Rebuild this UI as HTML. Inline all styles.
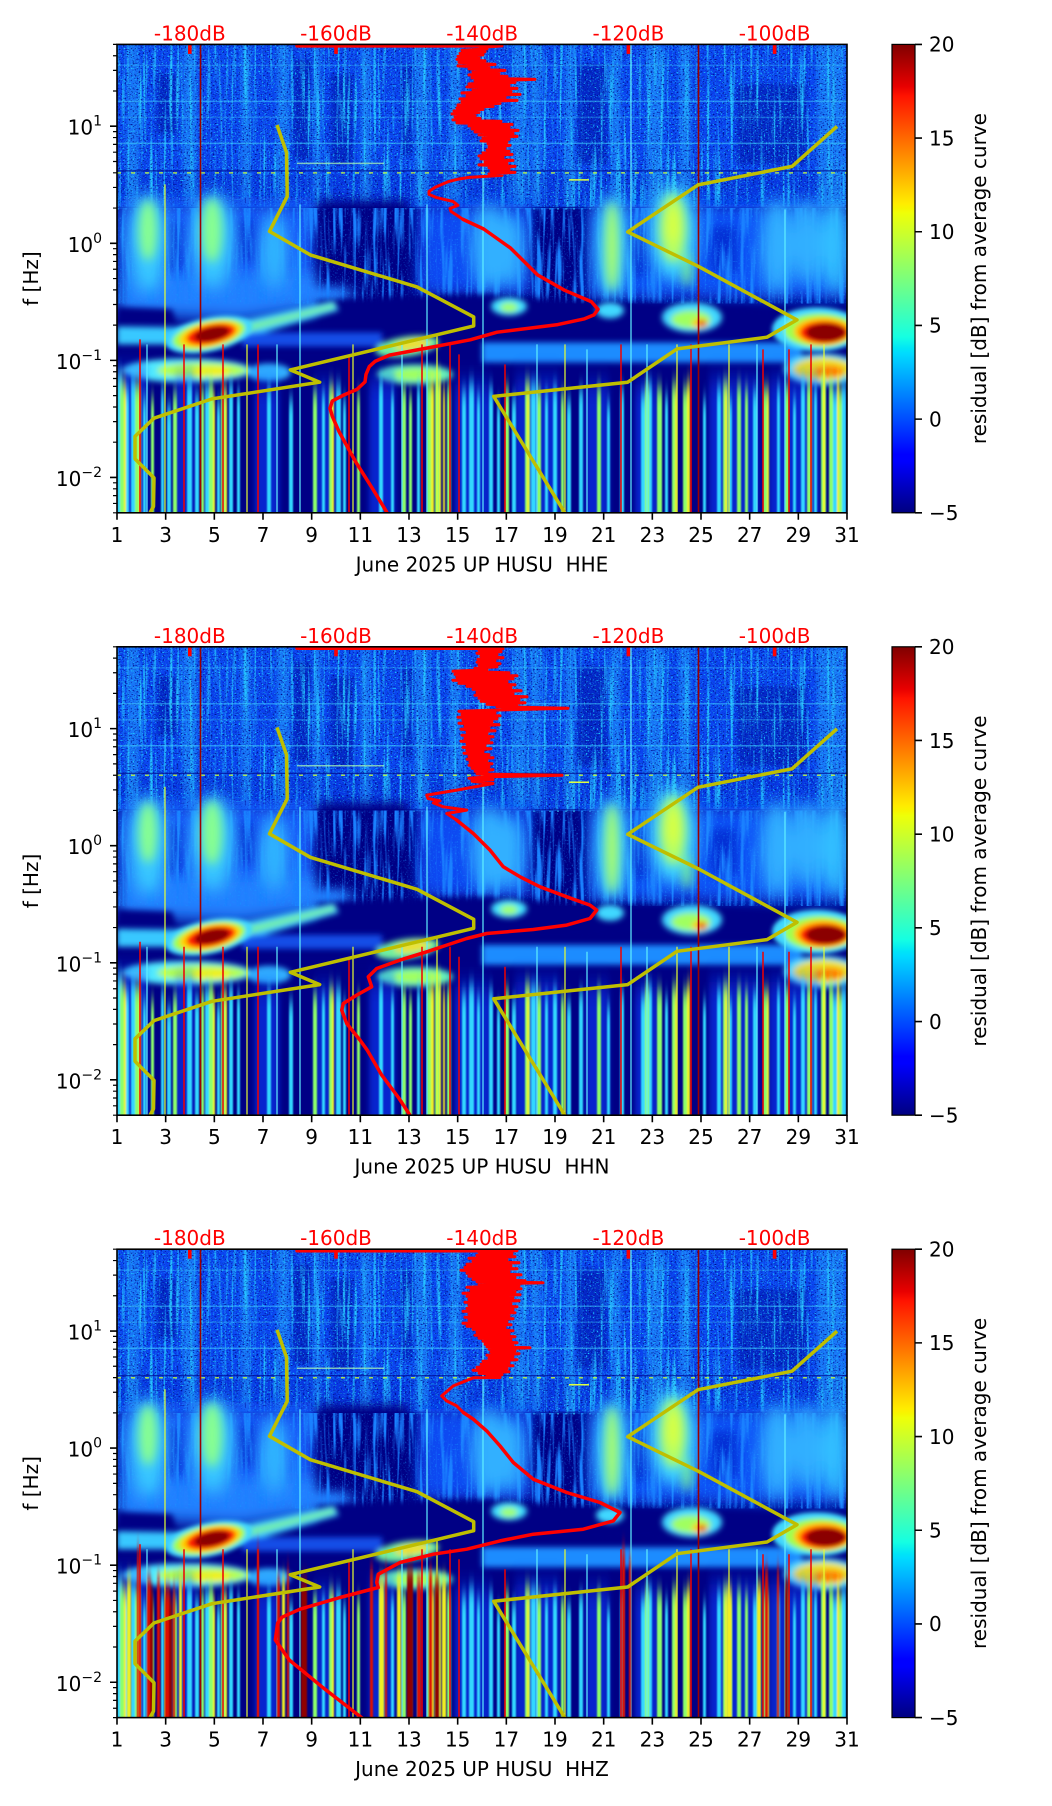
<!DOCTYPE html>
<html><head><meta charset="utf-8">
<style>
html,body{margin:0;padding:0;background:#fff;}
svg{display:block;}
text{font-family:"DejaVu Sans","Liberation Sans",sans-serif;font-size:20px;}
</style></head><body>
<svg xmlns="http://www.w3.org/2000/svg" width="1052" height="1806" viewBox="0 0 1052 1806">
<defs>
<filter id="b1" filterUnits="userSpaceOnUse" x="-60" y="-60" width="850" height="600"><feGaussianBlur stdDeviation="0.8"/></filter>
<filter id="b2" filterUnits="userSpaceOnUse" x="-60" y="-60" width="850" height="600"><feGaussianBlur stdDeviation="2"/></filter>
<filter id="b3" filterUnits="userSpaceOnUse" x="-60" y="-60" width="850" height="600"><feGaussianBlur stdDeviation="3"/></filter>
<filter id="b5" filterUnits="userSpaceOnUse" x="-60" y="-60" width="850" height="600"><feGaussianBlur stdDeviation="5"/></filter>
<filter id="b8" filterUnits="userSpaceOnUse" x="-60" y="-60" width="850" height="600"><feGaussianBlur stdDeviation="8"/></filter>
<filter id="bv" filterUnits="userSpaceOnUse" x="-60" y="-60" width="850" height="600"><feGaussianBlur stdDeviation="0.9 9"/></filter>
<filter id="bv2" filterUnits="userSpaceOnUse" x="-60" y="-60" width="850" height="600"><feGaussianBlur stdDeviation="3 12"/></filter>
<filter id="nzC" x="0" y="0" width="1" height="1" color-interpolation-filters="sRGB">
<feTurbulence type="fractalNoise" baseFrequency="0.55 0.75" numOctaves="2" seed="4"/>
<feColorMatrix type="matrix" values="0 0 0 0 0.12  0 0 0 0 0.82  0 0 0 0 1  5 0 0 0 -2.95"/>
</filter>
<filter id="nzD" x="0" y="0" width="1" height="1" color-interpolation-filters="sRGB">
<feTurbulence type="fractalNoise" baseFrequency="0.5 0.8" numOctaves="2" seed="9"/>
<feColorMatrix type="matrix" values="0 0 0 0 0  0 0 0 0 0.05  0 0 0 0 0.55  -5 0 0 0 2.15"/>
</filter>
<filter id="nzV" x="0" y="0" width="1" height="1" color-interpolation-filters="sRGB">
<feTurbulence type="fractalNoise" baseFrequency="0.3 0.01" numOctaves="2" seed="7"/>
<feColorMatrix type="matrix" values="0 0 0 0 0.15  0 0 0 0 0.75  0 0 0 0 1  4 0 0 0 -2.1"/>
</filter>
<filter id="nzV2" x="0" y="0" width="1" height="1" color-interpolation-filters="sRGB">
<feTurbulence type="fractalNoise" baseFrequency="0.25 0.015" numOctaves="2" seed="11"/>
<feColorMatrix type="matrix" values="0 0 0 0 0.1  0 0 0 0 0.5  0 0 0 0 1  4 0 0 0 -1.9"/>
</filter>
<filter id="nzM" x="0" y="0" width="1" height="1" color-interpolation-filters="sRGB">
<feTurbulence type="fractalNoise" baseFrequency="0.6 0.6" numOctaves="1" seed="21"/>
<feColorMatrix type="matrix" values="0 0 0 0 0.1  0 0 0 0 0.6  0 0 0 0 1  4 0 0 0 -2.3"/>
</filter>
<clipPath id="cp"><rect x="0" y="0" width="730" height="468.4"/></clipPath>
<linearGradient id="jet" x1="0" y1="1" x2="0" y2="0">
<stop offset="0" stop-color="#000080"/>
<stop offset="0.11" stop-color="#0000ff"/>
<stop offset="0.125" stop-color="#0000ff"/>
<stop offset="0.34" stop-color="#00dbff"/>
<stop offset="0.35" stop-color="#00e5f7"/>
<stop offset="0.375" stop-color="#15ffe2"/>
<stop offset="0.64" stop-color="#efff08"/>
<stop offset="0.65" stop-color="#f7f500"/>
<stop offset="0.66" stop-color="#ffec00"/>
<stop offset="0.89" stop-color="#ff1300"/>
<stop offset="0.91" stop-color="#e80000"/>
<stop offset="1" stop-color="#800000"/>
</linearGradient>

<g id="bg">
<rect x="0" y="0" width="730" height="470" fill="#000085"/>
<rect x="0" y="0" width="730" height="131" fill="#0b44f0"/>
<rect x="0" y="131" width="730" height="33" fill="#0838e4"/>
<g filter="url(#b2)" fill="#28a8ff" opacity="0.5">
<rect x="10" y="0" width="12" height="164"/>
<rect x="66" y="0" width="14" height="164"/>
<rect x="124" y="0" width="10" height="164"/>
<rect x="160" y="0" width="12" height="164"/>
<rect x="196" y="0" width="8" height="164"/>
<rect x="244" y="0" width="10" height="164"/>
<rect x="298" y="0" width="14" height="164"/>
<rect x="332" y="0" width="12" height="164"/>
<rect x="396" y="0" width="14" height="164"/>
<rect x="414" y="0" width="10" height="164"/>
<rect x="448" y="0" width="10" height="164"/>
<rect x="494" y="0" width="10" height="164"/>
<rect x="530" y="0" width="16" height="164"/>
<rect x="562" y="0" width="12" height="164"/>
<rect x="700" y="0" width="28" height="164"/>
</g>
<g filter="url(#b2)" fill="#0418b0" opacity="0.6">
<rect x="176" y="15" width="18" height="100"/>
<rect x="214" y="30" width="22" height="90"/>
<rect x="285" y="20" width="10" height="90"/>
<rect x="620" y="40" width="70" height="80"/>
<rect x="40" y="30" width="20" height="60"/>
<rect x="460" y="20" width="30" height="100"/>
</g>
<rect x="0" y="0" width="730" height="164" filter="url(#nzV)"/>
<rect x="0" y="0" width="730" height="164" filter="url(#nzC)"/>
<rect x="0" y="0" width="730" height="164" filter="url(#nzD)"/>
<g stroke-width="1.5" fill="none">
<line x1="0" x2="730" y1="21" y2="21" stroke="#40d0ff" opacity="0.3"/>
<line x1="0" x2="730" y1="57" y2="57" stroke="#40d0ff" opacity="0.5"/>
<line x1="0" x2="730" y1="73" y2="73" stroke="#40d0ff" opacity="0.3"/>
<line x1="0" x2="730" y1="99" y2="99" stroke="#40d0ff" opacity="0.55"/>
<line x1="180" x2="267" y1="119" y2="119" stroke="#b0ffb0" opacity="0.7"/>
<line x1="452" x2="472" y1="135.5" y2="135.5" stroke="#e0ff40"/>
<line x1="0" x2="730" y1="126.5" y2="126.5" stroke="#000a90" stroke-width="1.2" opacity="0.8"/>
<line x1="0" x2="730" y1="128.5" y2="128.5" stroke="#d0ff30" stroke-dasharray="4 10" opacity="0.8"/>
<line x1="0" x2="730" y1="163" y2="163" stroke="#000a90" stroke-width="1.2" opacity="0.8"/>
<line x1="0" x2="730" y1="164.5" y2="164.5" stroke="#40e0ff" stroke-dasharray="2 6" opacity="0.6"/>
</g>
<!-- mid region haze -->
<g filter="url(#b8)">
<rect x="0" y="158" width="200" height="105" fill="#1258f8"/>
<rect x="300" y="160" width="115" height="90" fill="#0d48f2"/>
<rect x="470" y="160" width="260" height="94" fill="#1052f6"/>
<polygon points="0,232 230,228 235,260 125,276 0,270" fill="#2080ff"/>
</g>
<g filter="url(#b5)" fill="#000085">
<rect x="200" y="156" width="92" height="86"/>
<rect x="420" y="172" width="44" height="66"/>
</g>
<g filter="url(#b5)" fill="#0620c8" opacity="0.7">
<rect x="50" y="178" width="16" height="48"/>
<rect x="120" y="175" width="18" height="42"/>
<rect x="512" y="175" width="18" height="58"/>
<rect x="594" y="182" width="26" height="46"/>
</g>
<rect x="0" y="164" width="730" height="95" filter="url(#nzV2)"/>
<rect x="0" y="164" width="730" height="95" filter="url(#nzM)" opacity="0.6"/>
<!-- plumes -->
<g filter="url(#b8)">
<ellipse cx="31" cy="198" rx="20" ry="50" fill="#38c8ff"/>
<ellipse cx="96" cy="196" rx="22" ry="48" fill="#38c8ff"/>
<ellipse cx="157" cy="206" rx="14" ry="38" fill="#30b8ff"/>
<ellipse cx="372" cy="202" rx="18" ry="44" fill="#30b0ff"/>
<ellipse cx="395" cy="206" rx="12" ry="38" fill="#30b0ff"/>
<ellipse cx="495" cy="202" rx="16" ry="52" fill="#40d8ff"/>
<ellipse cx="556" cy="188" rx="24" ry="48" fill="#40d8ff"/>
<ellipse cx="660" cy="202" rx="16" ry="48" fill="#30b0ff"/>
<ellipse cx="690" cy="198" rx="14" ry="44" fill="#30b0ff"/>
<ellipse cx="718" cy="202" rx="14" ry="48" fill="#30c0ff"/>
</g>
<g filter="url(#b5)">
<ellipse cx="31" cy="186" rx="9" ry="30" fill="#88ff90"/>
<ellipse cx="95" cy="186" rx="10" ry="32" fill="#88ff90"/>
<ellipse cx="495" cy="202" rx="6" ry="44" fill="#b0ff60"/>
<ellipse cx="556" cy="184" rx="13" ry="34" fill="#b8ff60"/>
<ellipse cx="556" cy="180" rx="6" ry="18" fill="#d8ff40"/>
<ellipse cx="570" cy="225" rx="4" ry="18" fill="#80ff90"/>
</g>
<!-- dark band -->
<g filter="url(#b3)" fill="#000085">
<polygon points="0,263 55,265 60,281 0,281"/>
<polygon points="200,256 300,251 365,250 450,256 545,259 620,262 680,266 680,289 545,289 450,291 365,291 300,292 230,291 200,286"/>
<rect x="0" y="306" width="262" height="9"/>
</g>
<!-- cyan bands -->
<g filter="url(#b3)">
<polygon points="0,282 60,283 125,276 217,256 222,266 130,293 60,300 0,300" fill="#38c8ff"/>
<polygon points="125,281 217,259 218,264 125,289" fill="#90ff80" opacity="0.7"/>
<rect x="365" y="298" width="320" height="20" fill="#1f8cff"/>
<rect x="125" y="288" width="140" height="14" fill="#1660ff" opacity="0.8"/>
<ellipse cx="392" cy="262" rx="18" ry="9" fill="#40e0ff"/>
<ellipse cx="392" cy="263" rx="9" ry="5" fill="#a0ff70"/>
<ellipse cx="493" cy="266" rx="14" ry="8" fill="#40d8ff"/>
<ellipse cx="575" cy="273" rx="30" ry="15" fill="#40d8ff"/>
<ellipse cx="574" cy="275" rx="20" ry="9" fill="#a0ff60"/>
<ellipse cx="583" cy="279" rx="8" ry="5" fill="#ffd000"/>
<ellipse cx="585" cy="279" rx="4" ry="3" fill="#e01000"/>
<ellipse cx="290" cy="302" rx="32" ry="10" fill="#70f0a0" transform="rotate(-8 290 302)"/>
<ellipse cx="295" cy="300" rx="18" ry="5" fill="#f0e020" transform="rotate(-8 295 300)"/>
<ellipse cx="70" cy="326" rx="65" ry="12" fill="#50e8ff"/>
<ellipse cx="85" cy="326" rx="45" ry="8" fill="#b0ff50"/>
<ellipse cx="95" cy="327" rx="20" ry="5" fill="#f0f020"/>
<ellipse cx="152" cy="328" rx="22" ry="9" fill="#30b0ff"/>
<ellipse cx="298" cy="330" rx="38" ry="10" fill="#60f0c0"/>
<ellipse cx="300" cy="330" rx="24" ry="6" fill="#a0ff60"/>
<ellipse cx="705" cy="325" rx="38" ry="16" fill="#50e0ff"/>
<ellipse cx="706" cy="325" rx="30" ry="12" fill="#f0e020"/>
<ellipse cx="712" cy="327" rx="15" ry="6" fill="#ff8000"/>
</g>
<!-- hotspots -->
<g filter="url(#b2)">
<g transform="rotate(-12 93 290)">
<ellipse cx="92" cy="290" rx="44" ry="17" fill="#40d8ff"/>
<ellipse cx="92" cy="290" rx="37" ry="14" fill="#a0ff50"/>
<ellipse cx="93" cy="290" rx="31" ry="12" fill="#ffd000"/>
<ellipse cx="94" cy="290" rx="25" ry="9.5" fill="#ff2000"/>
<ellipse cx="95" cy="290" rx="18" ry="7" fill="#8b0000"/>
</g>
<ellipse cx="700" cy="285" rx="45" ry="22" fill="#40d8ff"/>
<ellipse cx="703" cy="286" rx="36" ry="17" fill="#a0ff50"/>
<ellipse cx="706" cy="287" rx="29" ry="14" fill="#ffc000"/>
<ellipse cx="707" cy="288" rx="24" ry="11" fill="#ff2000"/>
<ellipse cx="709" cy="288" rx="20" ry="9" fill="#8b0000"/>
</g>
<!-- bottom stripes -->
<g filter="url(#bv2)" fill="#0a3cff" opacity="0.6">
<rect x="0" y="325" width="30" height="200"/><rect x="58" y="335" width="20" height="200"/><rect x="138" y="340" width="24" height="200"/><rect x="198" y="340" width="20" height="200"/><rect x="252" y="335" width="26" height="200"/><rect x="338" y="340" width="36" height="200"/><rect x="398" y="335" width="45" height="200"/><rect x="468" y="340" width="24" height="200"/><rect x="518" y="340" width="24" height="200"/><rect x="592" y="335" width="50" height="200"/><rect x="652" y="335" width="50" height="200"/>
</g>
<g filter="url(#bv)">
<g fill="#30d8ff">
<rect x="0" y="330" width="5" height="200"/><rect x="9" y="345" width="3" height="200"/><rect x="14" y="335" width="4" height="200"/><rect x="26" y="355" width="3" height="200"/><rect x="44" y="345" width="3" height="200"/><rect x="50" y="362" width="4" height="200"/><rect x="70" y="338" width="5" height="200"/><rect x="78" y="352" width="4" height="200"/><rect x="88" y="342" width="5" height="200"/><rect x="100" y="358" width="3" height="200"/><rect x="112" y="340" width="4" height="200"/><rect x="120" y="348" width="3" height="200"/><rect x="150" y="345" width="4" height="200"/><rect x="172" y="356" width="4" height="200"/><rect x="205" y="350" width="3" height="200"/><rect x="219" y="342" width="5" height="200"/><rect x="226" y="356" width="3" height="200"/><rect x="262" y="338" width="4" height="200"/><rect x="274" y="350" width="3" height="200"/><rect x="300" y="342" width="3" height="200"/><rect x="345" y="348" width="4" height="200"/><rect x="352" y="340" width="5" height="200"/><rect x="360" y="352" width="3" height="200"/><rect x="372" y="345" width="4" height="200"/><rect x="380" y="360" width="3" height="200"/><rect x="395" y="355" width="4" height="200"/><rect x="414" y="340" width="5" height="200"/><rect x="428" y="350" width="3" height="200"/><rect x="436" y="344" width="4" height="200"/><rect x="450" y="356" width="4" height="200"/><rect x="462" y="346" width="4" height="200"/><rect x="490" y="360" width="3" height="200"/><rect x="503" y="345" width="4" height="200"/><rect x="524" y="350" width="4" height="200"/><rect x="532" y="340" width="3" height="200"/><rect x="548" y="352" width="3" height="200"/><rect x="586" y="356" width="3" height="200"/><rect x="600" y="344" width="4" height="200"/><rect x="612" y="356" width="3" height="200"/><rect x="636" y="348" width="4" height="200"/><rect x="660" y="344" width="3" height="200"/><rect x="676" y="356" width="3" height="200"/><rect x="684" y="338" width="4" height="200"/><rect x="697" y="344" width="3" height="200"/><rect x="716" y="346" width="4" height="200"/><rect x="725" y="340" width="4" height="200"/>
</g>
<g fill="#8cff6a">
<rect x="3" y="338" width="4" height="200"/><rect x="18" y="340" width="5" height="200"/><rect x="34" y="355" width="3" height="200"/><rect x="56" y="350" width="4" height="200"/><rect x="84" y="345" width="3" height="200"/><rect x="92" y="338" width="4" height="200"/><rect x="104" y="344" width="5" height="200"/><rect x="196" y="348" width="4" height="200"/><rect x="212" y="342" width="4" height="200"/><rect x="240" y="350" width="3" height="200"/><rect x="285" y="344" width="4" height="200"/><rect x="292" y="352" width="3" height="200"/><rect x="310" y="336" width="5" height="200"/><rect x="318" y="332" width="6" height="200"/><rect x="330" y="342" width="4" height="200"/><rect x="388" y="344" width="4" height="200"/><rect x="408" y="338" width="5" height="200"/><rect x="420" y="346" width="4" height="200"/><rect x="444" y="350" width="3" height="200"/><rect x="480" y="344" width="4" height="200"/><rect x="528" y="338" width="4" height="200"/><rect x="540" y="344" width="5" height="200"/><rect x="555" y="340" width="5" height="200"/><rect x="566" y="344" width="4" height="200"/><rect x="606" y="338" width="5" height="200"/><rect x="620" y="342" width="4" height="200"/><rect x="628" y="346" width="3" height="200"/><rect x="646" y="344" width="4" height="200"/><rect x="668" y="342" width="4" height="200"/><rect x="690" y="338" width="5" height="200"/><rect x="704" y="332" width="5" height="200"/><rect x="712" y="338" width="4" height="200"/><rect x="722" y="345" width="3" height="200"/>
</g>
<g fill="#f0f020">
<rect x="7" y="340" width="2" height="200"/><rect x="22" y="345" width="2" height="200"/><rect x="96" y="350" width="2" height="200"/><rect x="108" y="345" width="2" height="200"/><rect x="215" y="345" width="2" height="200"/><rect x="314" y="338" width="3" height="200"/><rect x="322" y="334" width="2" height="200"/><rect x="326" y="344" width="2" height="200"/><rect x="410" y="345" width="2" height="200"/><rect x="558" y="345" width="2" height="200"/><rect x="570" y="338" width="3" height="200"/><rect x="608" y="345" width="2" height="200"/><rect x="650" y="345" width="2" height="200"/><rect x="706" y="338" width="2" height="200"/><rect x="720" y="334" width="2" height="200"/>
</g>
</g>
<g stroke-width="1.2" fill="none">
<path stroke="#e8ff30" d="M48 140V470M130 300V470M236 300V470M320 290V470M448 300V470M560 300V470M612 300V470M707 300V470"/>
<path stroke="#60f0ff" d="M183 160V470M310 160V470M366 0V470M514 0V470M668 165V470M30 300V470M160 300V470M285 300V470M420 300V470M470 305V470M530 300V470M640 300V470"/>
<path stroke="#f00000" stroke-width="1.5" d="M23 295V470M67 300V470M106 300V470M141 300V470M232 310V470M305 300V470M333 300V470M342 310V470M388 320V470M504 300V470M574 300V470M646 305V470M672 305V470M694 300V470"/>
<path stroke="#9a0000" stroke-width="1.6" d="M83.5 0V470M581.5 0V470"/>
</g>
</g>

<g id="p3x" filter="url(#bv)">
<g fill="#e01000">
<rect x="20" y="300" width="2" height="200"/><rect x="30" y="330" width="4" height="200"/><rect x="40" y="330" width="3" height="200"/><rect x="48" y="340" width="5" height="200"/><rect x="56" y="340" width="2" height="200"/><rect x="140" y="300" width="2" height="200"/><rect x="160" y="330" width="3" height="200"/><rect x="170" y="320" width="2" height="200"/><rect x="253" y="320" width="3" height="200"/><rect x="268" y="320" width="2" height="200"/><rect x="300" y="330" width="4" height="200"/><rect x="312" y="320" width="3" height="200"/><rect x="505" y="300" width="3" height="200"/><rect x="512" y="310" width="2" height="200"/><rect x="648" y="320" width="3" height="200"/><rect x="660" y="320" width="2" height="200"/>
</g>
<g fill="#900000">
<rect x="33" y="340" width="3" height="200"/><rect x="52" y="350" width="3" height="200"/><rect x="184" y="330" width="6" height="200"/><rect x="290" y="320" width="6" height="200"/><rect x="318" y="330" width="4" height="200"/><rect x="668" y="330" width="3" height="200"/>
</g>
<g fill="#f0f020">
<rect x="10" y="330" width="4" height="200"/><rect x="62" y="330" width="3" height="200"/><rect x="165" y="330" width="3" height="200"/><rect x="262" y="330" width="5" height="200"/><rect x="280" y="330" width="4" height="200"/><rect x="325" y="330" width="4" height="200"/><rect x="610" y="340" width="5" height="200"/><rect x="640" y="335" width="4" height="200"/>
</g>
</g>

<g id="yl" fill="none" stroke="#bfbf00" stroke-width="3.5" stroke-linejoin="round">
<polyline points="160,80.6 169.5,108 170.2,152 152.5,187 193.3,210.5 300,242.5 356.7,272.5 356.7,281.5 173.3,325.5 202.7,337.8 95,354.5 37,373.8 18,392 18,414.5 37,433.5 36.5,462 31,472"/>
<polyline points="720,82 675,122 581,140.5 510.7,187.5 581.7,222.2 680,275.5 650,292.8 560,304.5 510.7,337.8 376.7,352 450,472"/>
</g>

<g id="ax">
<rect x="775" y="0" width="23" height="468.4" fill="url(#jet)" stroke="#000" stroke-width="1.2"/>
<g stroke="#000" stroke-width="1.6" fill="none">
<path d="M-7 81.83H0M-7 198.9H0M-7 315.98H0M-7 433.05H0"/>
<path stroke-width="1.2" d="M-4 468.4H0M-4 459.03H0M-4 451.2H0M-4 444.41H0M-4 438.42H0M-4 397.81H0M-4 377.19H0M-4 362.57H0M-4 351.23H0M-4 341.95H0M-4 334.12H0M-4 327.33H0M-4 321.35H0M-4 280.74H0M-4 260.12H0M-4 245.5H0M-4 234.16H0M-4 224.88H0M-4 217.05H0M-4 210.26H0M-4 204.28H0M-4 163.66H0M-4 143.04H0M-4 128.42H0M-4 117.08H0M-4 107.8H0M-4 99.97H0M-4 93.18H0M-4 87.2H0M-4 46.58H0M-4 25.96H0M-4 11.34H0M-4 0H0"/>
<path d="M0 468.4v7M48.67 468.4v7M97.33 468.4v7M146 468.4v7M194.67 468.4v7M243.33 468.4v7M292 468.4v7M340.67 468.4v7M389.33 468.4v7M438 468.4v7M486.67 468.4v7M535.33 468.4v7M584 468.4v7M632.67 468.4v7M681.33 468.4v7M730 468.4v7"/>
<path d="M798 0h7M798 93.68h7M798 187.36h7M798 281.04h7M798 374.72h7M798 468.4h7"/>
</g>
<rect x="0" y="0" width="730" height="468.4" fill="none" stroke="#000" stroke-width="1.6"/>
</g>
</defs>

<rect x="0" y="0" width="1052" height="1806" fill="#fff"/>

<!-- ================= PANEL 1 ================= -->
<g transform="translate(117,44.4)">
<g clip-path="url(#cp)">
<use href="#bg"/>
<g fill="none" stroke="#ff0000" stroke-width="3.5" stroke-linejoin="round" stroke-linecap="round">
<path d="M180 1.5H372"/>
<polyline stroke-width="3" points="372,0 385,1.5 363,3 370,4.5 345,6 368,7.5 343,9 366,10.5 341,12 362,13.5 340,15 368,16.5 342,18 378,20 341,21.5 372,23 352,24.5 388,26 356,27.5 382,29 352,30.5 390,32 355,33.5 418,35 358,36.5 398,38 352,39.5 392,41 350,42.5 400,44 356,45.5 394,47 345,48.5 403,50 350,51.5 388,53 343,54.5 400,56 345,57.5 383,59 341,60.5 376,62 340,63.5 366,65 337,66.5 362,68 335,69.5 358,71 338,72.5 363,74 336,75.5 384,77 340,78.5 395,80 352,81.5 392,83 355,84.5 401,86 358,87.5 396,89 362,90.5 400,92 366,93.5 392,95 364,96.5 390,98 371,99.5 393,101 372,102.5 388,104 370,105.5 392,107 366,108.5 395,110 362,111.5 386,113 364,114.5 396,116 368,117.5 390,119 362,120.5 398,122 372,123.5 392,125 374,126.5 398,128 372,129.5 385,131 352,133 340,135 332,137 326,139.5 318,143 312,147 312,150 319,153 336,157 341,161 333,164 334,167 346,175"/>
<polyline points="346,175 366.7,184.6 393.6,203.7 420.5,230.5 447.4,245.8 474.3,257.2 481,264.9 477,270.5 467.6,274.4 440.7,280.2 380.1,287.8 353.2,295.4 312.9,303.1 272.5,310.7 258,317 252.3,322.2 249,330 248,337.5 240,345 226,351 215.3,356.6 213,364 215.3,371.9 222,387.2 238.8,417.7 255.7,444.5 271.1,470"/>
</g>
<use href="#yl"/>
<g fill="#ff0000"><rect x="71" y="0" width="3.6" height="9.5"/><rect x="217.2" y="0" width="3.6" height="9.5"/><rect x="363.4" y="0" width="3.6" height="9.5"/><rect x="509.6" y="0" width="3.6" height="9.5"/><rect x="655.8" y="0" width="3.6" height="9.5"/></g>
</g>
<use href="#ax"/>
<g fill="#ff0000" text-anchor="middle"><text x="72.8" y="-4">-180dB</text><text x="219" y="-4">-160dB</text><text x="365.2" y="-4">-140dB</text><text x="511.4" y="-4">-120dB</text><text x="657.6" y="-4">-100dB</text></g>
<g text-anchor="end"><text x="-15" y="90.3">10<tspan dy="-9" font-size="14">1</tspan></text><text x="-15" y="207.4">10<tspan dy="-9" font-size="14">0</tspan></text><text x="-15" y="324.5">10<tspan dy="-9" font-size="14">−1</tspan></text><text x="-15" y="441.6">10<tspan dy="-9" font-size="14">−2</tspan></text></g>
<g text-anchor="middle"><text x="0" y="497.4">1</text><text x="48.67" y="497.4">3</text><text x="97.33" y="497.4">5</text><text x="146" y="497.4">7</text><text x="194.67" y="497.4">9</text><text x="243.33" y="497.4">11</text><text x="292" y="497.4">13</text><text x="340.67" y="497.4">15</text><text x="389.33" y="497.4">17</text><text x="438" y="497.4">19</text><text x="486.67" y="497.4">21</text><text x="535.33" y="497.4">23</text><text x="584" y="497.4">25</text><text x="632.67" y="497.4">27</text><text x="681.33" y="497.4">29</text><text x="730" y="497.4">31</text></g>
<text x="365" y="526.9" text-anchor="middle" style="white-space:pre">June 2025 UP HUSU  HHE</text>
<text transform="translate(-79,234.2) rotate(-90)" text-anchor="middle">f [Hz]</text>
<g><text x="812" y="7.3">20</text><text x="812" y="101">15</text><text x="812" y="194.7">10</text><text x="812" y="288.3">5</text><text x="812" y="382">0</text><text x="812" y="475.7">−5</text></g>
<text transform="translate(869,234.2) rotate(-90)" text-anchor="middle">residual [dB] from average curve</text>
</g>

<!-- ================= PANEL 2 ================= -->
<g transform="translate(117,646.8)">
<g clip-path="url(#cp)">
<use href="#bg"/>
<g fill="none" stroke="#ff0000" stroke-width="3.5" stroke-linejoin="round" stroke-linecap="round">
<path d="M180 1.5H372"/>
<polyline stroke-width="3" points="372,0 386,2 362,3.5 384,5 360,6.5 380,8 364,9.5 386,11 361,12.5 378,14 360,15.5 383,17 362,18.5 380,20 358,21.5 370,23 336,24.5 392,26 338,27.5 400,29 340,30.5 396,32 336,33.5 390,35 342,36.5 398,38 350,39.5 394,41 356,42.5 404,44 360,45.5 396,47 358,48.5 410,50 362,51.5 402,53 364,54.5 408,56 370,57.5 400,59 380,60 451,61.5 390,63 342,64.5 378,66 345,67.5 383,69 341,70.5 380,72 346,73.5 375,75 342,76.5 382,78 348,79.5 372,81 344,82.5 378,84 350,85.5 370,87 345,88.5 376,90 348,91.5 372,93 344,94.5 375,96 350,97.5 368,99 346,100.5 374,102 350,103.5 366,105 347,106.5 372,108 352,109.5 376,111 350,112.5 370,114 353,115.5 375,117 352,118.5 372,120 355,121.5 376,123 358,124.5 370,126 360,127.2 445,128.5 372,130 352,131.5 376,133 355,134.5 376,136.7 339.7,143.3 309.7,148.3 311,151.7 323,154 316.3,156 326.3,160 349.7,163.3 329.7,166.7 339.7,173.3"/>
<polyline points="339.7,173.3 356.3,186.7 373,203.3 386.3,220 403,230 423,240 449.7,250 473,258.3 479.7,263.3 473,271.7 449.7,278.3 416.3,282.7 369.7,286.7 349.7,291.7 329.7,298.3 309.7,305 283,313.3 259.7,321.7 251.3,330 254.7,340 239.7,348.3 226.3,356.7 224.7,363.3 229.7,376.7 243,393.3 250,403 264.5,428 281.8,451.2 294,470"/>
</g>
<use href="#yl"/>
<g fill="#ff0000"><rect x="71" y="0" width="3.6" height="9.5"/><rect x="217.2" y="0" width="3.6" height="9.5"/><rect x="363.4" y="0" width="3.6" height="9.5"/><rect x="509.6" y="0" width="3.6" height="9.5"/><rect x="655.8" y="0" width="3.6" height="9.5"/></g>
</g>
<use href="#ax"/>
<g fill="#ff0000" text-anchor="middle"><text x="72.8" y="-4">-180dB</text><text x="219" y="-4">-160dB</text><text x="365.2" y="-4">-140dB</text><text x="511.4" y="-4">-120dB</text><text x="657.6" y="-4">-100dB</text></g>
<g text-anchor="end"><text x="-15" y="90.3">10<tspan dy="-9" font-size="14">1</tspan></text><text x="-15" y="207.4">10<tspan dy="-9" font-size="14">0</tspan></text><text x="-15" y="324.5">10<tspan dy="-9" font-size="14">−1</tspan></text><text x="-15" y="441.6">10<tspan dy="-9" font-size="14">−2</tspan></text></g>
<g text-anchor="middle"><text x="0" y="497.4">1</text><text x="48.67" y="497.4">3</text><text x="97.33" y="497.4">5</text><text x="146" y="497.4">7</text><text x="194.67" y="497.4">9</text><text x="243.33" y="497.4">11</text><text x="292" y="497.4">13</text><text x="340.67" y="497.4">15</text><text x="389.33" y="497.4">17</text><text x="438" y="497.4">19</text><text x="486.67" y="497.4">21</text><text x="535.33" y="497.4">23</text><text x="584" y="497.4">25</text><text x="632.67" y="497.4">27</text><text x="681.33" y="497.4">29</text><text x="730" y="497.4">31</text></g>
<text x="365" y="526.9" text-anchor="middle" style="white-space:pre">June 2025 UP HUSU  HHN</text>
<text transform="translate(-79,234.2) rotate(-90)" text-anchor="middle">f [Hz]</text>
<g><text x="812" y="7.3">20</text><text x="812" y="101">15</text><text x="812" y="194.7">10</text><text x="812" y="288.3">5</text><text x="812" y="382">0</text><text x="812" y="475.7">−5</text></g>
<text transform="translate(869,234.2) rotate(-90)" text-anchor="middle">residual [dB] from average curve</text>
</g>

<!-- ================= PANEL 3 ================= -->
<g transform="translate(117,1249.2)">
<g clip-path="url(#cp)">
<use href="#bg"/>
<use href="#p3x"/>
<g fill="none" stroke="#ff0000" stroke-width="3.5" stroke-linejoin="round" stroke-linecap="round">
<path d="M180 1.5H385"/>
<polyline stroke-width="3" points="385,0 400,1.5 362,3 395,4.5 360,6 398,7.5 352,9 390,10.5 356,12 402,13.5 350,15 394,16.5 348,18 400,19.5 344,21 392,22.5 350,24 404,25.5 352,27 398,28.5 356,30 408,31.5 360,32.5 426,33.5 362,35 402,36.5 350,38 404,39.5 354,41 398,42.5 346,44 403,45.5 350,47 396,48.5 352,50 402,51.5 348,53 394,54.5 352,56 400,57.5 350,59 396,60.5 346,62 398,63.5 352,65 392,66.5 348,68 396,69.5 352,71 390,72.5 346,74 394,75.5 350,77 388,78.5 356,80 396,81.5 360,83 392,84.5 358,86 398,87.5 362,89 394,90.5 366,92 400,93.5 368,95 396,96.5 370,97.5 413,98.5 372,100 398,101.5 374,103 402,104.5 370,106 396,107.5 372,109 400,110.5 366,112 392,113.5 364,115 396,116.5 360,118 390,119.5 356,121 392,122.5 362,124 385,125.5 370,127 383,128.3 356.3,128.6 336.3,136.7 324.7,146.7 329.7,151.7 339.7,156.7 346.3,163.3"/>
<polyline points="346.3,163.3 356.3,170 369.7,181.7 383,196.7 396.3,213.3 416.3,230 449.7,243.3 483,253.3 503,263.3 496.3,271.7 466.3,280 416.3,285 383,291.7 349.7,300 316.3,305 283,313.3 261.3,325 259.7,333.3 261.3,338.3 223,348.3 183,360 165,368 160.6,374.1 158.3,390.8 172.3,410.8 204.8,437.5 246.7,470"/>
</g>
<use href="#yl"/>
<g fill="#ff0000"><rect x="71" y="0" width="3.6" height="9.5"/><rect x="217.2" y="0" width="3.6" height="9.5"/><rect x="363.4" y="0" width="3.6" height="9.5"/><rect x="509.6" y="0" width="3.6" height="9.5"/><rect x="655.8" y="0" width="3.6" height="9.5"/></g>
</g>
<use href="#ax"/>
<g fill="#ff0000" text-anchor="middle"><text x="72.8" y="-4">-180dB</text><text x="219" y="-4">-160dB</text><text x="365.2" y="-4">-140dB</text><text x="511.4" y="-4">-120dB</text><text x="657.6" y="-4">-100dB</text></g>
<g text-anchor="end"><text x="-15" y="90.3">10<tspan dy="-9" font-size="14">1</tspan></text><text x="-15" y="207.4">10<tspan dy="-9" font-size="14">0</tspan></text><text x="-15" y="324.5">10<tspan dy="-9" font-size="14">−1</tspan></text><text x="-15" y="441.6">10<tspan dy="-9" font-size="14">−2</tspan></text></g>
<g text-anchor="middle"><text x="0" y="497.4">1</text><text x="48.67" y="497.4">3</text><text x="97.33" y="497.4">5</text><text x="146" y="497.4">7</text><text x="194.67" y="497.4">9</text><text x="243.33" y="497.4">11</text><text x="292" y="497.4">13</text><text x="340.67" y="497.4">15</text><text x="389.33" y="497.4">17</text><text x="438" y="497.4">19</text><text x="486.67" y="497.4">21</text><text x="535.33" y="497.4">23</text><text x="584" y="497.4">25</text><text x="632.67" y="497.4">27</text><text x="681.33" y="497.4">29</text><text x="730" y="497.4">31</text></g>
<text x="365" y="526.9" text-anchor="middle" style="white-space:pre">June 2025 UP HUSU  HHZ</text>
<text transform="translate(-79,234.2) rotate(-90)" text-anchor="middle">f [Hz]</text>
<g><text x="812" y="7.3">20</text><text x="812" y="101">15</text><text x="812" y="194.7">10</text><text x="812" y="288.3">5</text><text x="812" y="382">0</text><text x="812" y="475.7">−5</text></g>
<text transform="translate(869,234.2) rotate(-90)" text-anchor="middle">residual [dB] from average curve</text>
</g>
</svg>
</body></html>
